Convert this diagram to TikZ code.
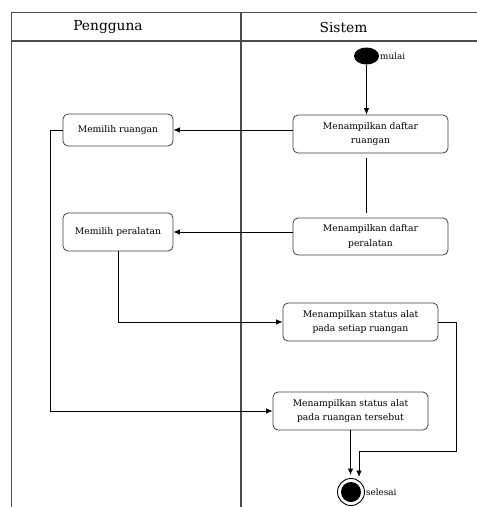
\documentclass[tikz,border=0pt]{standalone}
\usepackage{fontspec}
\setmainfont{DejaVu Serif}
\usetikzlibrary{arrows.meta,shapes.geometric}
\begin{document}
\begin{tikzpicture}[x=1pt,y=-1pt,
  lane/.style={draw=black!70,line width=1.1pt},
  act/.style={draw=black!75,line width=0.8pt,rounded corners=5pt,fill=white,
    align=center,inner sep=0pt,font=\fontsize{9.2}{14.5}\selectfont},
  flow/.style={draw=black,line width=0.8pt},
  arr/.style={flow,-{Latex[length=6.5pt,width=5.5pt]}},
  hdr/.style={font=\fontsize{13.8}{16}\selectfont},
  lbl/.style={font=\fontsize{8.8}{11}\selectfont,inner sep=0pt,anchor=west}]
\useasboundingbox (0,0) rectangle (477,507);

% swimlane frame
\draw[lane] (477,12.7) -- (11.7,12.7) -- (11.7,507);
\draw[lane] (11.7,41) -- (477,41);
\draw[lane] (241,12.7) -- (241,507);
\node[hdr] (hP) at (108,27) {Pengguna};
\node[hdr] (hS) at (343.5,27) {Sistem};

% start and end states
\node[ellipse,fill=black,minimum width=25pt,minimum height=17pt,inner sep=0pt] (start) at (366.5,56) {};
\node[lbl] (mulai) at (380,56) {mulai};
\node[circle,draw=black,line width=0.9pt,minimum size=27pt,inner sep=0pt] (stop) at (351,492) {};
\node[circle,fill=black,minimum size=20pt,inner sep=0pt] (stopin) at (351,492) {};
\node[lbl] (selesai) at (366,492) {selesai};

% activities
\node[act,minimum width=155pt,minimum height=38pt] (A1) at (370.5,134) {Menampilkan daftar\\ruangan};
\node[act,minimum width=110pt,minimum height=32pt] (U1) at (118,130) {Memilih ruangan};
\node[act,minimum width=155pt,minimum height=37pt] (A2) at (370.5,236.5) {Menampilkan daftar\\peralatan};
\node[act,minimum width=110pt,minimum height=38pt] (U2) at (118,232) {Memilih peralatan};
\node[act,minimum width=155pt,minimum height=38pt] (A3) at (360.5,322) {Menampilkan status alat\\pada setiap ruangan};
\node[act,minimum width=155pt,minimum height=38pt] (A4) at (350.5,411) {Menampilkan status alat\\pada ruangan tersebut};

% helper points
\coordinate (c1) at (366.5,158);
\coordinate (c2) at (366.5,213);
\coordinate (u1l) at (50,130);
\coordinate (u1b) at (50,411);
\coordinate (a3r) at (456,322);
\coordinate (a3d) at (456,451);
\coordinate (a3m) at (359,451);
\coordinate (a3e) at (359,477);
\coordinate (a4e) at (350.5,475);

% flows
\draw[arr] (start.south) -- (start.south |- A1.north);
\draw[arr] (A1.west |- U1.east) -- (U1.east);
\draw[flow] (c1) -- (c2);
\draw[arr] (A2.west |- U2.east) -- (U2.east);
\draw[arr] (U2.south) |- (A3.west);
\draw[arr] (U1.west) -- (u1l) -- (u1b) -- (A4.west);
\draw[arr] (A3.east) -- (a3r) -- (a3d) -- (a3m) -- (a3e);
\draw[arr] (A4.south) -- (a4e);
\end{tikzpicture}
\end{document}
